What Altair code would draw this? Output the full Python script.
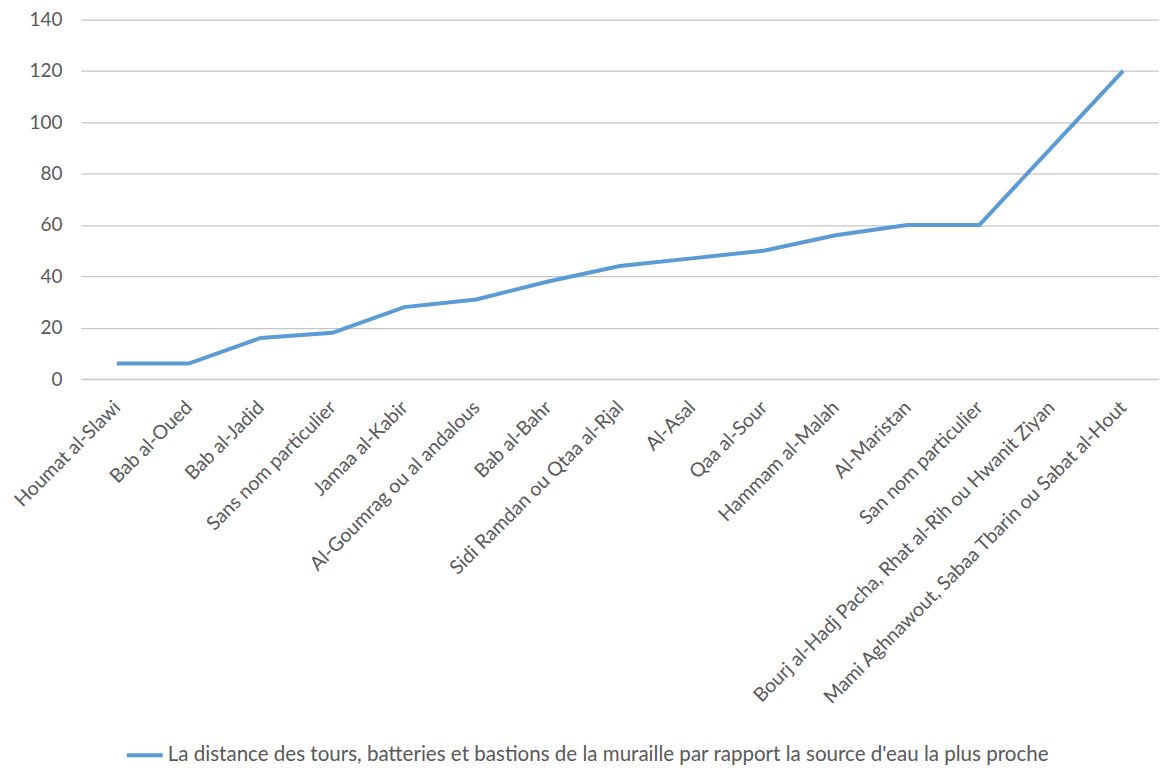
import altair as alt
import pandas as pd

categories = [
    "Houmat al-Slawi",
    "Bab al-Oued",
    "Bab al-Jadid",
    "Sans nom particulier",
    "Jamaa al-Kabir",
    "Al-Goumrag ou al andalous",
    "Bab al-Bahr",
    "Sidi Ramdan ou Qtaa al-Rjal",
    "Al-Asal",
    "Qaa al-Sour",
    "Hammam al-Malah",
    "Al-Maristan",
    "San nom particulier",
    "Bourj al-Hadj Pacha, Rhat al-Rih ou Hwanit Ziyan",
    "Mami Aghnawout, Sabaa Tbarin ou Sabat al-Hout",
]
values = [6, 6, 16, 18, 28, 31, 38, 44, 47, 50, 56, 60, 60, 90, 120]
series_name = "La distance des tours, batteries et bastions de la muraille par rapport la source d'eau la plus proche"

df = pd.DataFrame({"cat": categories, "val": values, "series": [series_name] * len(categories)})

FONT = "Lato"
GRAY = "#595959"

chart = alt.Chart(df).mark_line(strokeWidth=4, color="#5B9BD5").encode(
    x=alt.X("cat:N", sort=categories, title=None,
            scale=alt.Scale(paddingInner=0, paddingOuter=0),
            axis=alt.Axis(labelAngle=-45, labelAlign="right", labelBaseline="middle",
                          labelFontSize=19.5, labelColor=GRAY, labelFont=FONT,
                          ticks=False, domain=False, labelPadding=25, labelLimit=700,
                          labelOverlap=False)),
    y=alt.Y("val:Q", title=None,
            scale=alt.Scale(domain=[0, 140]),
            axis=alt.Axis(values=[0, 20, 40, 60, 80, 100, 120, 140],
                          labelFontSize=19, labelColor=GRAY, labelFont=FONT,
                          ticks=False, domain=False, labelPadding=19,
                          grid=True, gridColor="#C6C6C6", gridWidth=1.3)),
    color=alt.Color("series:N", title=None,
                    scale=alt.Scale(range=["#5B9BD5"]),
                    legend=alt.Legend(orient="none", legendX=44, legendY=717,
                                      symbolType="stroke", symbolSize=1296,
                                      symbolStrokeWidth=4, labelFontSize=20.6,
                                      labelColor=GRAY, labelFont=FONT,
                                      labelLimit=1200, labelOffset=3, padding=0)),
).properties(
    width=1080,
    height=360,
    autosize=alt.AutoSizeParams(type="none"),
    padding={"left": 73, "top": 11, "right": 0, "bottom": 387},
).configure_view(stroke=None)

chart.save("out.html", embed_options={"renderer": "svg", "actions": False})
